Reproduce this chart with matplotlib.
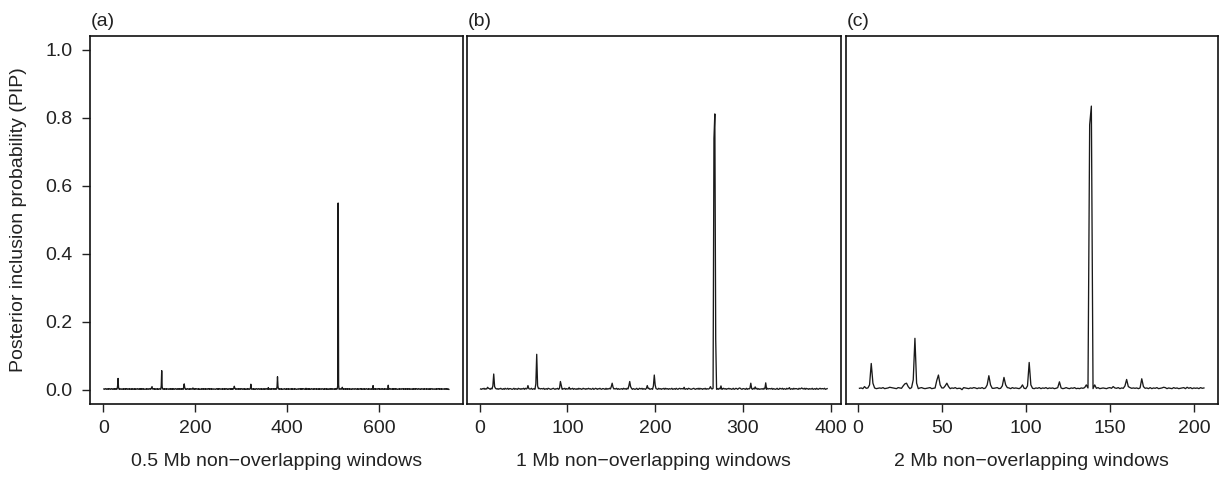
import numpy as np
import matplotlib
matplotlib.use("Agg")
import matplotlib.pyplot as plt

plt.rcParams['font.family'] = ['Liberation Sans', 'DejaVu Sans']

# ---------------- data (PIP per window) ----------------
# baseline PIP per window in thousandths, one digit per window
base_a = (
    "3323432334" "2343323432" "3342332433" "2433243323" "3234233243"
    "4323342332" "3243323423" "2334323342" "3423324332" "2332433234"
    "3324323343" "2432334232" "3343234233" "2342332433" "3233423324"
    "2433234323" "3423324332" "4332343323" "2343323423" "3324332342"
    "3432334232" "2334233243" "3243323432" "4233423323" "3322343324"
    "2343323342" "3324233432" "3234332423" "2433233243" "3342332433"
    "4323342323" "2332433234" "3423324323" "2343233432" "3324323342"
    "2433432332" "3323423343" "4233243323" "3342332432" "2334323423"
    "3243323342" "4323342332" "2332343324" "3423432332" "3233423243"
    "2343323423" "3324332342" "4332343323" "2433243232" "3342332433"
    "3234233243" "2323432334" "3423324332" "4233423323" "2343323432"
    "3324323343" "2432334232" "3343234233" "2334233243" "3243323432"
    "4323342332" "3243323423" "2334323342" "3423324332" "2332433234"
    "3342332433" "2433243323" "3234233243" "4332343323" "2343323423"
    "3324332342" "2433432332" "3323423343" "4233243323" "3342332432"
    "32"
)
base_b = (
    "3243524325" "4253342534" "2435324253" "3524432352" "4325342435"
    "2534243352" "3425324534" "4352342543" "2345324352" "5342435243"
    "3524352432" "4253423534" "2435342352" "3542435324" "4325243534"
    "2534352423" "3425342534" "4352432352" "2543524325" "3452342534"
    "4325342435" "2534243352" "3425324534" "4352342543" "2345324352"
    "5342435243" "3524352432" "4253423534" "2435342352" "3542435324"
    "4325243534" "2534352423" "3425342534" "4352432352" "2543524325"
    "3452342534" "4325342435" "2534243352" "3425324534" "435234"
)
base_c = (
    "5647565476" "4565745687" "6547654365" "4756546754" "5674565476"
    "6547465745" "5476546576" "4657465475" "5674546576" "4756547654"
    "4675465746" "5746564576" "6457546574" "5465746547" "6574565467"
    "5465746576" "4756564657" "5647465745" "6574654756" "4567465746"
    "564756"
)

# peaks: window index -> PIP
peaks_a = {31: 0.012, 32: 0.034, 33: 0.008, 105: 0.007, 106: 0.010,
           126: 0.012, 127: 0.057, 128: 0.010, 175: 0.010, 176: 0.018,
           177: 0.008, 195: 0.006, 284: 0.006, 285: 0.011, 286: 0.006,
           321: 0.017, 359: 0.007, 378: 0.010, 379: 0.039, 380: 0.012,
           441: 0.005, 510: 0.012, 511: 0.550, 512: 0.015, 520: 0.008,
           587: 0.013, 620: 0.014}
peaks_b = {9: 0.008, 15: 0.012, 16: 0.047, 17: 0.010, 55: 0.013,
           64: 0.018, 65: 0.105, 66: 0.012, 92: 0.025, 93: 0.014,
           102: 0.008, 150: 0.010, 151: 0.020, 152: 0.008, 170: 0.012,
           171: 0.025, 172: 0.010, 191: 0.013, 198: 0.012, 199: 0.044,
           200: 0.015, 233: 0.008, 263: 0.010, 267: 0.740, 268: 0.812,
           269: 0.150, 275: 0.012, 296: 0.006, 309: 0.020, 314: 0.009,
           326: 0.021, 353: 0.007, 367: 0.006}
peaks_c = {4: 0.010, 7: 0.015, 8: 0.078, 9: 0.020, 27: 0.012, 28: 0.018,
           29: 0.020, 30: 0.010, 33: 0.030, 34: 0.152, 35: 0.020,
           47: 0.028, 48: 0.044, 49: 0.015, 52: 0.012, 53: 0.020,
           54: 0.010, 62: 0.001, 77: 0.015, 78: 0.042, 79: 0.015,
           86: 0.012, 87: 0.037, 88: 0.015, 98: 0.015, 101: 0.012,
           102: 0.081, 103: 0.015, 120: 0.024, 136: 0.015, 137: 0.006,
           138: 0.780, 139: 0.835, 140: 0.004, 141: 0.015, 152: 0.010,
           159: 0.012, 160: 0.031, 161: 0.010, 169: 0.033, 170: 0.010,
           182: 0.008, 196: 0.008}

xlabels = ["0.5 Mb non\u2212overlapping windows",
           "1 Mb non\u2212overlapping windows",
           "2 Mb non\u2212overlapping windows"]
panel_tags = ["(a)", "(b)", "(c)"]
xticks = [[0, 200, 400, 600], [0, 100, 200, 300, 400], [0, 50, 100, 150, 200]]
yticks = [0.0, 0.2, 0.4, 0.6, 0.8, 1.0]
ylabel = "Posterior inclusion probability (PIP)"


def build(base, peaks):
    y = np.array([int(ch) for ch in base], dtype=float) / 1000.0
    for k, v in peaks.items():
        y[k - 1] = v
    x = np.arange(1, len(y) + 1)
    return x, y


series = [build(base_a, peaks_a), build(base_b, peaks_b), build(base_c, peaks_c)]

W, H = 1227, 479
fig = plt.figure(figsize=(W / 100, H / 100), dpi=100)

boxes = [(90, 462.7), (466.7, 841.0), (845.7, 1217.7)]
top_px, bot_px = 36.4, 403.6

for i, ((x, y), (l, r)) in enumerate(zip(series, boxes)):
    ax = fig.add_axes([l / W, 1 - bot_px / H, (r - l) / W, (bot_px - top_px) / H])
    ax.plot(x, y, color='#1a1a1a', lw=0.95)
    n = len(y)
    ext = 0.04 * (n - 1)
    ax.set_xlim(1 - ext, n + ext)
    ax.set_ylim(-0.04, 1.04)
    ax.set_xticks(xticks[i])
    ax.set_xticklabels([str(t) for t in xticks[i]])
    ax.tick_params(axis='x', direction='out', length=5.5, width=1.0,
                   labelsize=14, pad=6.5, colors='#222222')
    if i == 0:
        ax.set_yticks(yticks)
        ax.set_yticklabels([f"{t:.1f}" for t in yticks])
        ax.tick_params(axis='y', direction='out', length=5.5, width=1.0,
                       labelsize=14, pad=7, colors='#222222')
    else:
        ax.set_yticks([])
    for s in ax.spines.values():
        s.set_linewidth(1.2)
        s.set_color('#111111')
    ax.set_xlabel(xlabels[i], fontsize=14, color='#222222')
    ax.xaxis.set_label_coords(0.5, -0.135)
    fig.text((l + 1) / W, 1 - 21 / H, panel_tags[i], fontsize=14,
             ha='left', va='center', color='#222222')

fig.text(19 / W, 1 - 220 / H, ylabel, rotation=90, fontsize=14,
         ha='center', va='center', color='#222222')

fig.savefig("out.png", dpi=100)
